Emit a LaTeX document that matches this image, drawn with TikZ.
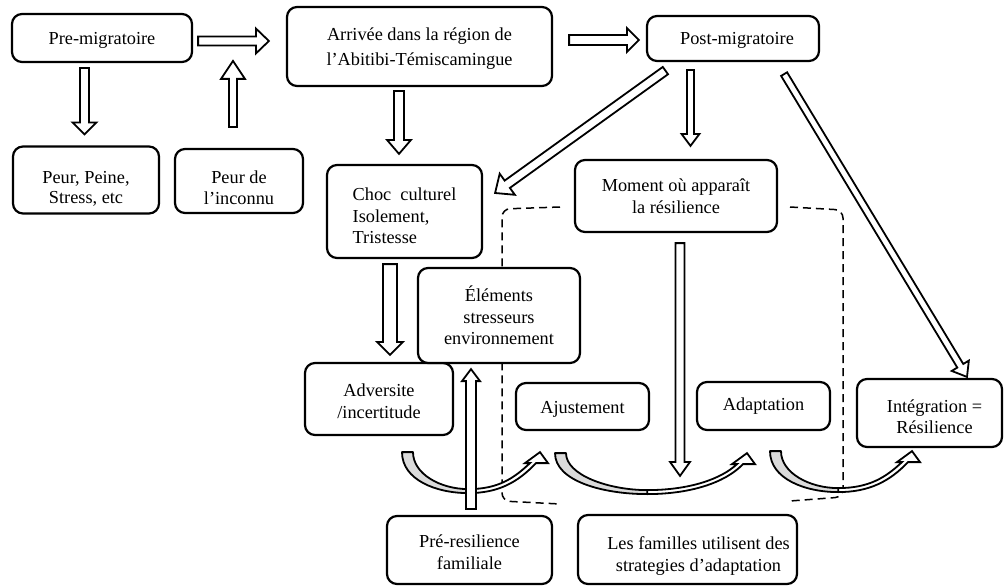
\documentclass[tikz,border=0pt]{standalone}
\usepackage{fontspec}
\setmainfont{Liberation Serif}
\usetikzlibrary{calc}
\tikzset{
  box/.style={draw, fill=white, rounded corners=10pt, line width=2.2pt, align=center, inner sep=2pt,
    font=\fontsize{18.3}{21.5}\selectfont},
  blockarr/.style={draw, fill=white, line width=1.8pt, line join=miter},
  dashline/.style={line width=1.5pt, dash pattern=on 8pt off 5pt, rounded corners=8pt},
  curvegray/.style={draw, fill=gray!28, line width=1.8pt, line join=round},
  curvewhite/.style={draw, fill=white, line width=1.8pt, line join=miter},
}
% invisible strut that pushes the text block down inside its box
\newcommand\firstpad[1]{\rule{0pt}{#1pt}}
% #1 from, #2 to, #3 shaft half width, #4 head half width, #5 head length
\newcommand\blockarrow[5]{%
  \coordinate (baA) at #1;
  \coordinate (baB) at #2;
  \coordinate (baH) at ($(baB)!#5pt!(baA)$);
  \path[blockarr] ($(baA)!#3pt!90:(baB)$) -- ($(baH)!#3pt!-90:(baA)$) -- ($(baH)!#4pt!-90:(baA)$)
    -- (baB) -- ($(baH)!#4pt!90:(baA)$) -- ($(baH)!#3pt!90:(baA)$) -- ($(baA)!#3pt!-90:(baB)$) -- cycle;
}
% #1 outer top-left start point, #2 width
\newcommand\curvedarrow[2]{%
  \begin{scope}[shift={#1}]
    \path[curvewhite] ({0.48*#2},41) .. controls ({0.7*#2},41) and ({#2-22},30) .. ({#2-4},11)
      -- ({#2+8},11) -- (#2,0) -- ({#2-15},11) -- ({#2-10},11)
      .. controls ({#2-26},26) and ({0.7*#2},37) .. ({0.48*#2},37);
    \path[curvegray] (0,0) .. controls (0,28) and ({0.25*#2},41) .. ({0.48*#2},41)
      -- ({0.48*#2},37) .. controls ({0.28*#2},37) and (11,22) .. (11,0) -- cycle;
  \end{scope}
}
\begin{document}
\begin{tikzpicture}[x=1pt,y=-1pt]
\useasboundingbox (0,0) rectangle (1005,586);

% dashed frame lines
\draw[dashline] (560,207) -- (502,209) -- (502,501) -- (560,504);
\draw[dashline] (790,207) -- (843,210) -- (843,497) -- (790,501);

% boxes
\node[box, minimum width=180pt, minimum height=48pt] (pre) at (102,38) {\firstpad{16.5}Pre-migratoire};
\node[box, minimum width=265pt, minimum height=79pt, font=\fontsize{18.3}{25}\selectfont] (arr) at (419.5,46.5) {\firstpad{16.5}Arrivée dans la région de\\l’Abitibi-Témiscamingue};
\node[box, minimum width=172pt, minimum height=45pt] (post) at (733,38.5) {\firstpad{16.5}\hspace*{8pt}Post-migratoire};
\node[box, minimum width=146pt, minimum height=67pt, font=\fontsize{18.3}{20.5}\selectfont] (peine) at (86,180) {\firstpad{30}Peur, Peine,\\Stress, etc};
\node[box, minimum width=128pt, minimum height=64pt, font=\fontsize{18.3}{20.5}\selectfont] (inconnu) at (239,181) {\firstpad{26}Peur de\\l’inconnu};
\node[box, minimum width=155pt, minimum height=93pt, align=left] (choc) at (404.5,211.5) {\firstpad{22}Choc\ \ culturel\\Isolement,\\Tristesse};
\node[box, minimum width=202pt, minimum height=72pt] (moment) at (676,196) {Moment où apparaît\\la résilience};
\node[box, minimum width=148pt, minimum height=72pt] (adv) at (379,399) {\firstpad{17.5}Adversite\\/incertitude};
\node[box, minimum width=162pt, minimum height=95pt] (elem) at (499,315.5) {Éléments\\stresseurs\\environnement};
\node[box, minimum width=133pt, minimum height=47pt] (ajust) at (582.5,406.5) {\firstpad{18.5}Ajustement};
\node[box, minimum width=133pt, minimum height=48pt] (adapt) at (763.5,406) {Adaptation};
\node[box, minimum width=145pt, minimum height=68pt] (integ) at (929.5,413) {\firstpad{20.5}\hspace*{10pt}Intégration =\\\hspace*{10pt}Résilience};
\node[box, minimum width=165pt, minimum height=68pt] (preres) at (469.5,550) {\firstpad{17.5}Pré-resilience\\familiale};
\node[box, minimum width=219pt, minimum height=69pt] (fam) at (687.5,549.5) {\firstpad{26}\hspace*{22pt}Les familles utilisent des\\\hspace*{22pt}strategies d’adaptation};

% curved arrows
\curvedarrow{($(adv.south)+(23,16)$)}{138}
\curvedarrow{($(ajust.south)+(-27.5,22)$)}{192}
\curvedarrow{($(adapt.south)+(6.5,20)$)}{142}

% block arrows
\blockarrow{($(pre.east)+(5,3)$)}{($(arr.west)+(-17,-5.5)$)}{4.5}{12.5}{13}
\blockarrow{($(pre.south)+(-17.5,5)$)}{($(peine.north)+(-1.5,-11)$)}{4.5}{12}{12}
\blockarrow{($(inconnu.north)+(-6,-21)$)}{($(inconnu.north)+(-6,-87)$)}{4}{12}{18}
\blockarrow{($(arr.east)+(16,-6.5)$)}{($(post.west)+(-7,1.5)$)}{5}{12}{12}
\blockarrow{($(arr.south)+(-20.5,4)$)}{($(choc.north)+(-5.5,-10)$)}{5}{12}{14}
\blockarrow{($(post.south west)+(19.5,8.5)$)}{($(choc.east)+(12,-18.5)$)}{4.5}{13}{15}
\blockarrow{($(post.south)+(-42.5,8)$)}{($(moment.north)+(14.5,-13)$)}{3.5}{9}{12}
\blockarrow{($(post.south east)+(-36,12)$)}{($(integ.north)+(37.5,-1)$)}{3.5}{10}{13}
\blockarrow{($(choc.south)+(-14.5,5)$)}{($(adv.north)+(11,-7)$)}{7}{13}{13}
\blockarrow{($(moment.south)+(4,10)$)}{($(fam.north)+(-7.5,-38)$)}{4.5}{10}{14}
\blockarrow{($(preres.north)+(1.5,-6)$)}{($(elem.south)+(-28,5)$)}{5}{9}{12}
\end{tikzpicture}
\end{document}
